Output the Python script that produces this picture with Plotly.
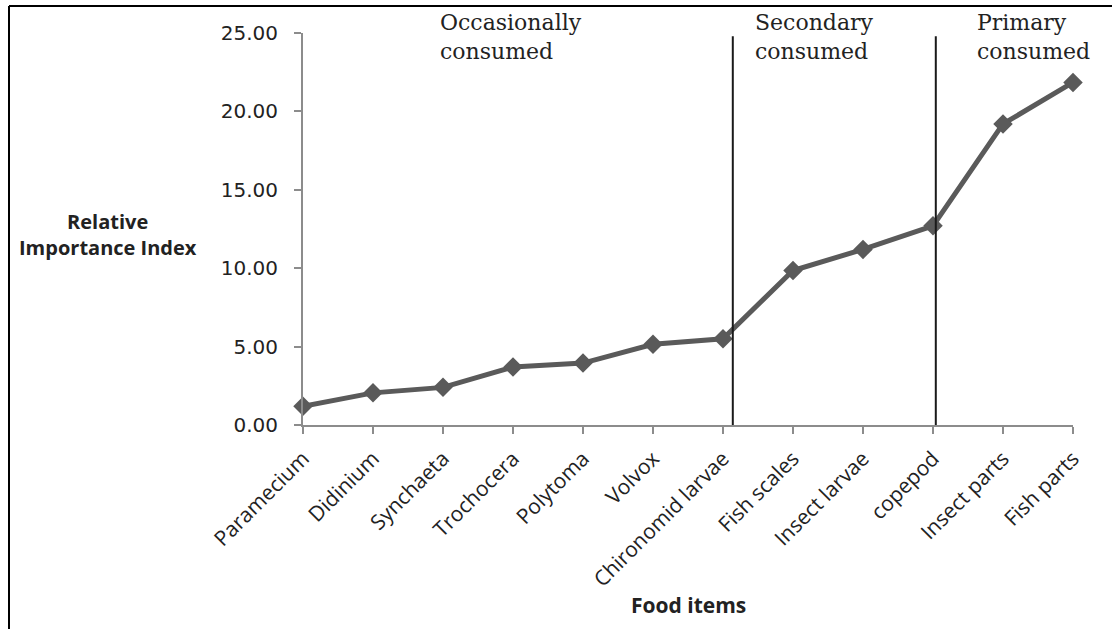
import plotly.graph_objects as go

# Food items and their Relative Importance Index
food_items = ["Paramecium", "Didinium", "Synchaeta", "Trochocera", "Polytoma",
              "Volvox", "Chironomid larvae", "Fish scales", "Insect larvae",
              "copepod", "Insect parts", "Fish parts"]
rii_values = [1.2, 2.05, 2.4, 3.7, 3.95, 5.15, 5.5, 9.85, 11.2, 12.7, 19.2, 21.85]

# Category group separators (positions on the category axis) and group labels
separator_positions = [6.14, 9.04]
group_labels = ["Occasionally<br>consumed", "Secondary<br>consumed", "Primary<br>consumed"]
group_label_x = [0.175, 0.584, 0.873]

y_tick_vals = [0, 5, 10, 15, 20, 25]

W, H = 1112, 629
L, R, T, B = 303, 39, 33, 203.5
plot_w = W - L - R
plot_h = H - T - B


def px_to_paper_x(px):
    return (px - L) / plot_w


def px_to_paper_y(py):
    return (H - B - py) / plot_h


fig = go.Figure()
fig.add_trace(go.Scatter(
    x=food_items,
    y=rii_values,
    mode="lines+markers",
    line=dict(color="#5a5a5a", width=5),
    marker=dict(symbol="diamond", size=15, color="#5a5a5a"),
    cliponaxis=False,
    showlegend=False,
))

for xpos in separator_positions:
    fig.add_shape(type="line", xref="x", yref="y", x0=xpos, x1=xpos, y0=0, y1=24.8,
                  line=dict(color="#1a1a1a", width=2))

for text, gx in zip(group_labels, group_label_x):
    fig.add_annotation(text=text, xref="paper", yref="paper", x=gx, y=px_to_paper_y(37),
                       xanchor="left", yanchor="middle", align="left", showarrow=False,
                       font=dict(family="DejaVu Serif", size=22, color="#222222"))

# Y-axis title placed to the left of the tick labels
fig.add_annotation(text="<b>Relative<br>Importance Index</b>", xref="paper", yref="paper",
                   x=px_to_paper_x(108), y=px_to_paper_y(235), xanchor="center",
                   yanchor="middle", align="center", showarrow=False,
                   font=dict(family="Open Sans", size=20, color="#222222"))

fig.add_annotation(text="<b>Food items</b>", xref="paper", yref="paper",
                   x=px_to_paper_x(688), y=px_to_paper_y(606), xanchor="center",
                   yanchor="middle", showarrow=False,
                   font=dict(family="Open Sans", size=21, color="#222222"))

# Frame lines along the top and left edges
fig.add_shape(type="line", xref="paper", yref="paper",
              x0=px_to_paper_x(9), x1=px_to_paper_x(W + 5), y0=px_to_paper_y(6), y1=px_to_paper_y(6),
              line=dict(color="black", width=2))
fig.add_shape(type="line", xref="paper", yref="paper",
              x0=px_to_paper_x(9), x1=px_to_paper_x(9), y0=px_to_paper_y(6), y1=px_to_paper_y(H + 5),
              line=dict(color="black", width=2))

fig.update_layout(
    width=W, height=H,
    margin=dict(l=L, r=R, t=T, b=B),
    paper_bgcolor="white", plot_bgcolor="white",
    xaxis=dict(
        type="category", range=[0, 11], showgrid=False, zeroline=False,
        showline=True, linecolor="#8c8c8c", linewidth=2,
        ticks="outside", ticklen=7, tickcolor="#8c8c8c", tickwidth=2,
        tickangle=-45, ticklabelstandoff=4,
        tickfont=dict(family="Open Sans", size=21, color="#222222"),
    ),
    yaxis=dict(
        range=[0, 25], tickvals=y_tick_vals, tickformat=".2f",
        showgrid=False, zeroline=False,
        showline=True, linecolor="#8c8c8c", linewidth=2,
        ticks="outside", ticklen=7, tickcolor="#8c8c8c", tickwidth=2,
        ticklabelstandoff=12,
        tickfont=dict(family="DejaVu Sans", size=20, color="#222222"),
    ),
)

fig.write_html("out.html")
